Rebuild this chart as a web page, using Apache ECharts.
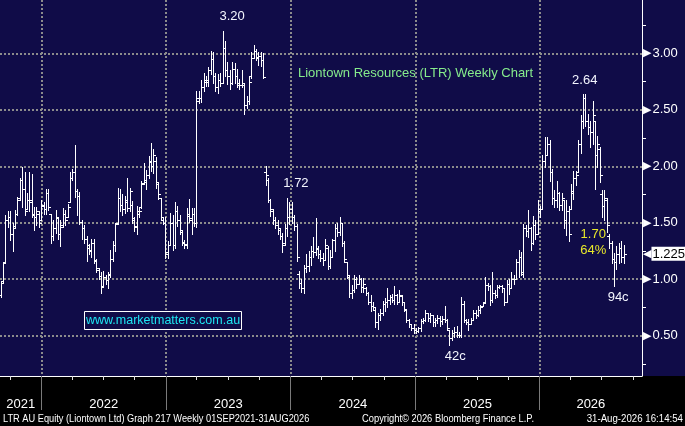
<!DOCTYPE html>
<html><head><meta charset="utf-8">
<script src="https://cdn.jsdelivr.net/npm/echarts@6/dist/echarts.min.js"></script>
<style>html,body{margin:0;padding:0;background:#000}#c{width:685px;height:426px}</style>
</head><body><div id="c"></div><script>
// Weekly OHLC bars [open, high, low, close], week ending Fridays from 2021-09-03
const y2021 = [
[0.86,0.98,0.84,0.97],[0.98,1.14,0.97,1.14],[1.15,1.57,1.14,1.52],[1.52,1.60,1.46,1.55],[1.55,1.60,1.35,1.40],
[1.40,1.50,1.25,1.45],[1.47,1.61,1.46,1.58],[1.58,1.73,1.57,1.70],[1.72,1.90,1.70,1.88],[1.88,1.99,1.64,1.80],
[1.80,1.95,1.57,1.60],[1.62,1.76,1.62,1.70],[1.70,1.95,1.60,1.68],[1.70,1.93,1.55,1.57],[1.58,1.64,1.44,1.55],
[1.55,1.64,1.48,1.60],[1.58,1.60,1.46,1.50],[1.52,1.70,1.52,1.66]
];
const y2022 = [
[1.65,1.68,1.58,1.62],[1.62,1.80,1.58,1.76],[1.76,1.80,1.61,1.64],[1.58,1.58,1.32,1.38],[1.38,1.52,1.35,1.45],
[1.45,1.61,1.41,1.55],[1.54,1.55,1.36,1.40],[1.40,1.52,1.29,1.46],[1.48,1.63,1.46,1.58],[1.58,1.61,1.48,1.52],
[1.55,1.67,1.55,1.64],[1.68,1.95,1.68,1.90],[1.90,1.98,1.88,1.95],[1.95,2.19,1.73,1.78],[1.78,1.80,1.57,1.74],
[1.74,1.77,1.49,1.51],[1.51,1.52,1.36,1.45],[1.45,1.48,1.32,1.36],[1.36,1.38,1.16,1.30],[1.28,1.31,1.22,1.25],
[1.26,1.36,1.20,1.32],[1.32,1.36,1.14,1.17],[1.16,1.18,1.06,1.10],[1.08,1.10,1.00,1.03],[1.03,1.06,0.88,0.93],
[0.94,1.07,0.93,1.02],[1.02,1.04,0.96,0.99],[0.99,1.06,0.92,1.04],[1.05,1.26,1.02,1.18],[1.18,1.34,1.16,1.30],
[1.30,1.50,1.25,1.49],[1.50,1.81,1.49,1.72],[1.72,1.80,1.60,1.66],[1.66,1.75,1.57,1.62],[1.62,1.74,1.59,1.70],
[1.68,1.90,1.60,1.63],[1.63,1.81,1.60,1.78],[1.66,1.69,1.50,1.54],[1.52,1.55,1.43,1.47],[1.46,1.65,1.40,1.60],
[1.58,1.63,1.55,1.60],[1.64,1.87,1.63,1.84],[1.85,2.03,1.84,1.88],[1.86,1.97,1.80,1.92],[1.92,2.09,1.90,2.05],
[2.04,2.21,1.96,2.00],[2.00,2.15,1.94,2.10],[2.05,2.08,1.81,1.86],[1.84,1.86,1.71,1.75],[1.72,1.72,1.52,1.55],
[1.52,1.55,1.49,1.50],[1.50,1.55,1.19,1.24]
];
const y2023 = [
[1.22,1.34,1.19,1.30],[1.30,1.59,1.30,1.50],[1.50,1.57,1.26,1.30],[1.30,1.68,1.28,1.60],[1.60,1.65,1.47,1.52],
[1.52,1.57,1.40,1.44],[1.42,1.44,1.30,1.33],[1.32,1.35,1.28,1.31],[1.30,1.63,1.28,1.58],[1.56,1.71,1.51,1.54],
[1.52,1.63,1.40,1.58],[1.58,1.63,1.47,1.50],[1.50,2.67,1.46,2.58],[2.60,2.67,2.56,2.60],[2.60,2.76,2.57,2.70],
[2.70,2.83,2.67,2.76],[2.75,2.80,2.71,2.76],[2.75,2.88,2.71,2.85],[2.85,3.02,2.82,2.95],[2.95,3.01,2.74,2.80],
[2.80,2.83,2.67,2.70],[2.70,2.82,2.65,2.76],[2.76,2.83,2.71,2.74],[2.74,3.20,2.74,3.05],[3.05,3.11,2.80,2.85],
[2.85,2.92,2.73,2.80],[2.80,2.85,2.68,2.74],[2.74,2.92,2.73,2.86],[2.86,2.91,2.74,2.80],[2.80,2.86,2.70,2.74],
[2.72,2.77,2.68,2.72],[2.72,2.85,2.70,2.74],[2.72,2.74,2.46,2.54],[2.54,2.62,2.52,2.58],[2.58,2.80,2.55,2.75],
[2.80,3.01,2.78,2.96],[2.96,3.07,2.96,3.02],[3.02,3.04,2.94,2.97],[2.96,3.01,2.90,2.98],[2.98,3.01,2.89,2.94],
[2.94,3.00,2.78,2.79],[1.95,2.00,1.83,1.92],[1.88,1.90,1.68,1.70],[1.70,1.71,1.56,1.62],[1.60,1.62,1.49,1.52],
[1.52,1.55,1.45,1.48],[1.48,1.52,1.40,1.45],[1.44,1.45,1.36,1.38],[1.38,1.41,1.24,1.30],[1.32,1.49,1.30,1.45],
[1.45,1.72,1.38,1.55],[1.55,1.68,1.49,1.62]
];
const y2024 = [
[1.62,1.68,1.50,1.55],[1.55,1.57,1.44,1.47],[1.47,1.49,1.16,1.20],[1.05,1.07,0.92,0.97],[0.97,1.00,0.89,0.92],
[0.92,1.13,0.88,1.10],[1.10,1.22,1.06,1.12],[1.12,1.25,1.07,1.20],[1.20,1.29,1.13,1.25],[1.25,1.37,1.20,1.24],
[1.24,1.54,1.21,1.28],[1.27,1.29,1.19,1.22],[1.22,1.26,1.16,1.19],[1.19,1.23,1.13,1.17],[1.17,1.36,1.17,1.30],
[1.28,1.29,1.09,1.12],[1.12,1.26,1.10,1.20],[1.20,1.36,1.20,1.35],[1.35,1.49,1.25,1.45],[1.45,1.50,1.38,1.42],
[1.42,1.55,1.39,1.50],[1.50,1.50,1.29,1.32],[1.32,1.34,1.15,1.18],[1.15,1.15,1.01,1.04],[1.02,1.04,0.84,0.88],
[0.88,0.95,0.83,0.90],[0.90,1.04,0.89,1.00],[1.00,1.02,0.92,0.96],[0.96,1.04,0.96,1.00],[1.00,1.01,0.89,0.93],
[0.93,1.01,0.89,0.96],[0.92,0.93,0.86,0.88],[0.88,0.89,0.78,0.80],[0.80,0.86,0.72,0.76],[0.76,0.80,0.73,0.75],
[0.73,0.75,0.58,0.62],[0.62,0.70,0.56,0.68],[0.68,0.74,0.64,0.70],[0.70,0.81,0.68,0.78],[0.78,0.83,0.72,0.80],
[0.80,0.92,0.75,0.82],[0.82,0.86,0.78,0.84],[0.84,0.87,0.80,0.82],[0.82,0.94,0.78,0.86],[0.86,0.87,0.78,0.80],
[0.80,0.90,0.80,0.86],[0.85,0.86,0.77,0.80],[0.80,0.80,0.72,0.74],[0.73,0.73,0.62,0.64],[0.64,0.65,0.58,0.60],
[0.60,0.60,0.55,0.57],[0.57,0.60,0.52,0.55]
];
const y2025 = [
[0.55,0.57,0.52,0.54],[0.54,0.58,0.53,0.57],[0.57,0.65,0.54,0.63],[0.63,0.66,0.61,0.64],[0.64,0.73,0.63,0.70],
[0.70,0.70,0.63,0.66],[0.66,0.70,0.62,0.68],[0.68,0.68,0.59,0.62],[0.62,0.66,0.59,0.64],[0.64,0.68,0.61,0.66],
[0.66,0.67,0.59,0.63],[0.63,0.67,0.60,0.65],[0.65,0.76,0.62,0.64],[0.64,0.65,0.55,0.57],[0.55,0.55,0.42,0.48],
[0.48,0.55,0.46,0.52],[0.52,0.58,0.49,0.53],[0.53,0.59,0.49,0.51],[0.51,0.53,0.49,0.51],[0.51,0.84,0.49,0.78],
[0.78,0.81,0.62,0.64],[0.64,0.65,0.60,0.62],[0.62,0.65,0.55,0.60],[0.60,0.66,0.60,0.64],[0.64,0.73,0.64,0.70],
[0.70,0.73,0.66,0.68],[0.68,0.76,0.67,0.73],[0.73,0.77,0.70,0.75],[0.76,0.80,0.76,0.79],[0.80,1.02,0.79,0.95],
[0.95,0.97,0.90,0.94],[0.94,0.95,0.77,0.82],[0.82,1.06,0.80,0.88],[0.88,0.90,0.83,0.86],[0.86,0.95,0.84,0.93],
[0.93,0.95,0.92,0.94],[0.94,0.95,0.89,0.92],[0.92,0.92,0.77,0.80],[0.80,0.99,0.80,0.96],[0.96,1.00,0.87,0.92],
[0.92,1.06,0.92,1.00],[1.00,1.04,0.96,1.00],[1.00,1.18,1.00,1.15],[1.15,1.26,1.02,1.20],[1.20,1.24,1.04,1.06],
[1.05,1.49,1.02,1.45],[1.45,1.48,1.38,1.43],[1.43,1.61,1.37,1.45],[1.45,1.46,1.26,1.32],[1.32,1.56,1.31,1.48],
[1.48,1.52,1.36,1.40],[1.40,1.70,1.40,1.62]
];
const y2026 = [
[1.60,1.65,1.55,1.62],[1.62,2.10,1.62,2.05],[2.05,2.26,1.99,2.10],[2.10,2.26,2.10,2.20],[2.20,2.23,1.87,1.95],
[1.95,1.98,1.67,1.72],[1.72,1.79,1.64,1.70],[1.70,1.87,1.64,1.76],[1.76,1.77,1.61,1.66],[1.66,1.76,1.61,1.72],
[1.70,1.70,1.45,1.52],[1.52,1.70,1.39,1.60],[1.60,1.65,1.34,1.40],[1.62,1.84,1.62,1.78],[1.76,1.96,1.71,1.90],
[1.90,1.96,1.83,1.92],[1.95,2.23,1.95,2.20],[2.20,2.45,2.12,2.40],[2.40,2.64,2.34,2.60],[2.60,2.64,2.36,2.40],
[2.40,2.46,2.29,2.35],[2.35,2.40,2.17,2.30],[2.30,2.58,2.20,2.45],[2.40,2.40,1.80,2.10],[2.10,2.27,1.99,2.20],
[2.15,2.17,1.86,1.92],[1.75,1.79,1.55,1.65],[1.65,1.79,1.52,1.72],[1.70,1.72,1.42,1.48],[1.38,1.40,1.28,1.32],
[1.32,1.34,1.14,1.18],[1.18,1.23,0.94,1.15],[1.15,1.29,1.09,1.22],[1.22,1.32,1.14,1.28],[1.28,1.34,1.15,1.20],
[1.20,1.30,1.14,1.225]
];
const priceTicks = [0.5, 1, 1.5, 2, 2.5, 3];
const minorPriceTicks = [0.25, 0.75, 1.25, 1.75, 2.25, 2.75, 3.25];
const lastPrice = 1.225;
const yearTickYears = [2022, 2023, 2024, 2025, 2026];
// [text, date, price, colour]
const annotations = [
  ['3.20', '2023-07-14', 3.33, '#f4f6ff'],
  ['1.72', '2024-01-17', 1.852, '#f4f6ff'],
  ['2.64', '2026-05-13', 2.764, '#f4f6ff'],
  ['42c', '2025-04-28', 0.312, '#f4f6ff'],
  ['94c', '2026-08-19', 0.838, '#f4f6ff'],
  ['1.70', '2026-06-07', 1.400, '#e8e82a'],
  ['64%', '2026-06-07', 1.259, '#e8e82a']
];

const NAVY = '#100c48';
const FONT = 'Liberation Sans';
function toTime(s){ const p = s.split('-'); return new Date(+p[0], +p[1]-1, +p[2]).getTime(); }
const tMin = toTime('2021-09-01');
const tMax = toTime('2026-10-28');
const t0 = toTime('2021-09-03');
const DAY = 86400000;
const bars = [].concat(y2021, y2022, y2023, y2024, y2025, y2026);
const data = bars.map((b, i) => [t0 + i * 7 * DAY, b[0], b[1], b[2], b[3]]);

const yearTicks = yearTickYears.map(y => new Date(y, 0, 1).getTime());
const quarterTicks = [];
for (let y = 2021; y <= 2026; y++) for (const m of [0, 3, 6, 9]) {
  const t = new Date(y, m, 1).getTime();
  if (t > tMin && t < tMax) quarterTicks.push(t);
}
const bounds = [tMin].concat(yearTicks, [tMax]);
const yearLabelPos = [];
for (let i = 0; i < bounds.length - 1; i++) yearLabelPos.push((bounds[i] + bounds[i+1]) / 2);

const yMin = 0.143, yMax = 3.472;

function renderItem(params, api) {
  const t = api.value(0);
  const o = api.coord([t, api.value(1)]);
  const h = api.coord([t, api.value(2)]);
  const l = api.coord([t, api.value(3)]);
  const c = api.coord([t, api.value(4)]);
  const xi = Math.round(o[0]);
  const x = xi + 0.5;
  const st = { stroke: '#ffffff', lineWidth: 1 };
  const yo = Math.round(o[1]) + 0.5, yc = Math.round(c[1]) + 0.5;
  return { type: 'group', children: [
    { type: 'line', shape: { x1: x, y1: Math.round(h[1]), x2: x, y2: Math.round(l[1]) + 1 }, style: st },
    { type: 'line', shape: { x1: xi - 2, y1: yo, x2: xi, y2: yo }, style: st },
    { type: 'line', shape: { x1: xi + 1, y1: yc, x2: xi + 3, y2: yc }, style: st }
  ]};
}

const dotted = { color: '#8c8c8c', type: [2, 2], width: 2 };
const footFont = '11px "Liberation Sans"';
const chart = echarts.init(document.getElementById('c'), null, { renderer: 'canvas' });
chart.setOption({
  animation: false,
  backgroundColor: new echarts.graphic.LinearGradient(0, 0, 0, 1, [
    { offset: 0, color: NAVY }, { offset: 376/426, color: NAVY },
    { offset: 376/426, color: '#000000' }, { offset: 1, color: '#000000' }
  ]),
  title: {
    text: 'Liontown Resources (LTR) Weekly Chart', left: 298, top: 67, padding: 0,
    textStyle: { color: '#86ec8c', fontSize: 13, fontWeight: 'normal', fontFamily: FONT }
  },
  grid: { left: 0, right: 43, top: 0, bottom: 50, containLabel: false, outerBoundsMode: 'none' },
  xAxis: [
    { type: 'value', min: tMin, max: tMax, position: 'bottom', scale: true,
      axisLine: { show: true, onZero: false, lineStyle: { color: '#ffffff', width: 1 } },
      axisTick: { show: true, customValues: quarterTicks, length: 4, lineStyle: { color: '#dddddd' } },
      axisLabel: { show: false }, splitLine: { show: false } },
    { type: 'value', min: tMin, max: tMax, position: 'bottom', scale: true,
      axisLine: { show: false, onZero: false },
      axisTick: { show: true, customValues: yearTicks, length: 34, lineStyle: { color: '#7a7a7a' } },
      axisLabel: { show: true, customValues: yearLabelPos, hideOverlap: false,
        formatter: v => String(new Date(v).getFullYear()),
        color: '#ffffff', fontSize: 13, fontFamily: FONT, margin: 22 },
      splitLine: { show: true, lineStyle: dotted } }
  ],
  yAxis: [
    { type: 'value', position: 'right', min: yMin, max: yMax, scale: true,
      axisLine: { show: true, onZero: false, lineStyle: { color: '#ffffff', width: 1 } },
      axisTick: { show: false, customValues: priceTicks },
      axisLabel: { show: true, customValues: priceTicks, margin: 1,
        formatter: v => '{t|\u25B6}{v|' + Number(v).toFixed(2) + '}',
        rich: { t: { color: '#ffffff', fontSize: 11, padding: [0, 1, 0, 0], fontFamily: 'DejaVu Sans' },
                v: { color: '#ffffff', fontSize: 13, fontFamily: FONT } } },
      splitLine: { show: true, lineStyle: dotted } },
    { type: 'value', position: 'right', min: yMin, max: yMax, scale: true,
      axisLine: { show: false, onZero: false },
      axisTick: { show: true, customValues: minorPriceTicks, length: 4, lineStyle: { color: '#ffffff' } },
      axisLabel: { show: false }, splitLine: { show: false } },
    { type: 'value', position: 'right', min: yMin, max: yMax, scale: true,
      axisLine: { show: false, onZero: false },
      axisTick: { show: false, customValues: [lastPrice] },
      axisLabel: { show: true, customValues: [lastPrice], margin: 1,
        formatter: v => '{a|\u25C0}{b|' + String(v) + '}',
        rich: { a: { color: '#ffffff', fontSize: 11, fontFamily: 'DejaVu Sans', padding: [0, 0, 0, 0] },
                b: { color: '#000000', backgroundColor: '#ffffff', fontSize: 13, fontFamily: FONT, padding: [1, 1, 0, 1] } } },
      splitLine: { show: false } }
  ],
  series: [{
    type: 'custom', xAxisIndex: 0, yAxisIndex: 0,
    renderItem: renderItem,
    dimensions: ['date', 'open', 'high', 'low', 'close'],
    encode: { x: 0, y: [1, 2, 3, 4] },
    data: data,
    markPoint: {
      symbol: 'circle', symbolSize: 1, itemStyle: { color: 'rgba(0,0,0,0)' },
      label: { show: true, position: 'inside', fontSize: 13, fontFamily: FONT },
      data: annotations.map(a => ({ coord: [toTime(a[1]), a[2]], value: a[0],
        label: { formatter: a[0], color: a[3] } }))
    }
  }],
  graphic: [
    { type: 'rect', z: 100, shape: { x: 84.5, y: 311.5, width: 157, height: 18 },
      style: { fill: NAVY, stroke: '#ffffff', lineWidth: 1 } },
    { type: 'text', z: 101, x: 163, y: 321,
      style: { text: 'www.marketmatters.com.au', fill: '#1ee6f2', font: '12.5px "Liberation Sans"',
               textAlign: 'center', textVerticalAlign: 'middle', align: 'center', verticalAlign: 'middle' } },
    { type: 'text', z: 101, x: 3, y: 419, scaleX: 0.84,
      style: { text: 'LTR AU Equity (Liontown Ltd) Graph 217 Weekly 01SEP2021-31AUG2026', fill: '#ffffff',
               font: footFont, textAlign: 'left', textVerticalAlign: 'middle', align: 'left', verticalAlign: 'middle' } },
    { type: 'text', z: 101, x: 448, y: 419, scaleX: 0.85,
      style: { text: 'Copyright\u00A9 2026 Bloomberg Finance L.P.', fill: '#ffffff',
               font: footFont, textAlign: 'center', textVerticalAlign: 'middle', align: 'center', verticalAlign: 'middle' } },
    { type: 'text', z: 101, x: 683, y: 419, scaleX: 0.88,
      style: { text: '31-Aug-2026 16:14:54', fill: '#ffffff',
               font: footFont, textAlign: 'right', textVerticalAlign: 'middle', align: 'right', verticalAlign: 'middle' } }
  ]
});
</script></body></html>
